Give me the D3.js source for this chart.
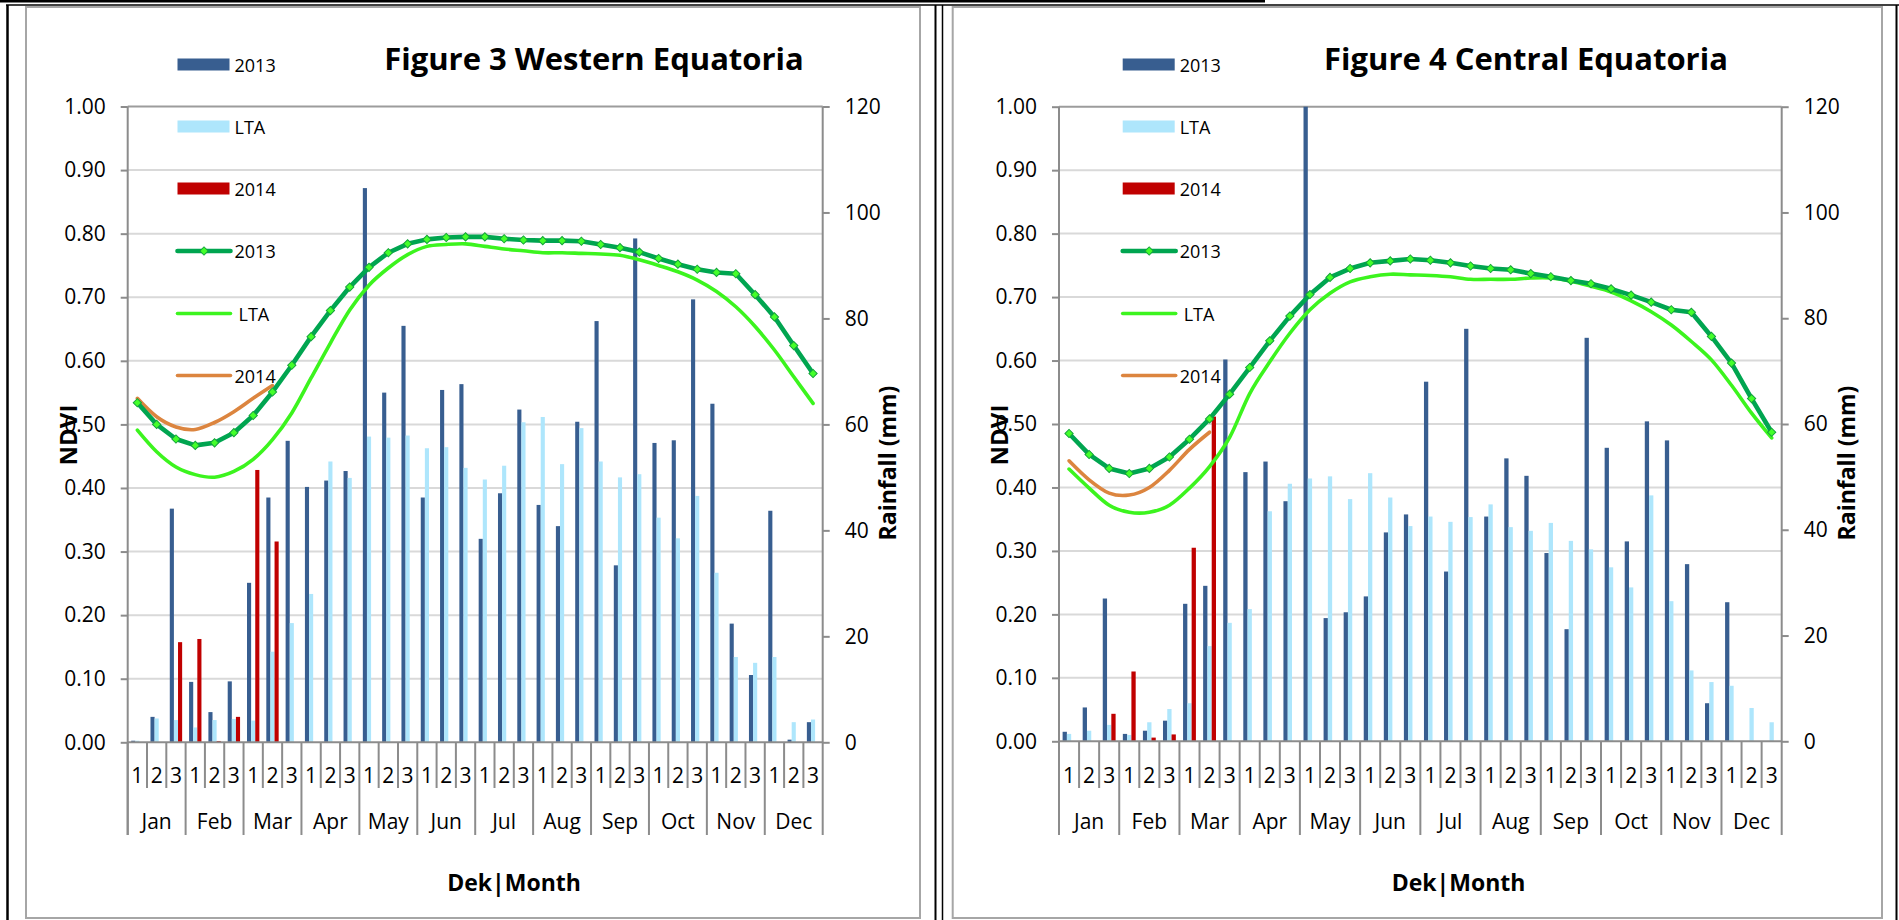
<!DOCTYPE html>
<html>
<head>
<meta charset="utf-8">
<script src="https://cdn.jsdelivr.net/npm/d3@7"></script>
<style>
  html, body { margin: 0; padding: 0; background: #fff; }
  svg { display: block; }
  text { font-family: "Open Sans", "Liberation Sans", sans-serif; }
</style>
</head>
<body>
<svg id="page" width="1899" height="920"></svg>
<script>
// ---- categories and ticks ----
const months = ["Jan", "Feb", "Mar", "Apr", "May", "Jun", "Jul", "Aug", "Sep", "Oct", "Nov", "Dec"];
const deks = ["1", "2", "3"];
const categories = months.flatMap(m => deks.map(d => m + "-" + d));
const ndviTicks = [0, 0.1, 0.2, 0.3, 0.4, 0.5, 0.6, 0.7, 0.8, 0.9, 1.0];
const rainTicks = [0, 20, 40, 60, 80, 100, 120];
const barSeries = ["2013", "LTA", "2014"];
const lineSeries = ["2013", "LTA", "2014"];

// ---- Western Equatoria: dekadal rainfall (mm) ----
const westRain2013 = [0.3, 4.8, 44.1, 11.4, 5.7, 11.5, 30.1, 46.2, 56.9, 48.2, 49.4, 51.2,
  104.6, 66.0, 78.6, 46.2, 66.5, 67.6, 38.4, 47.0, 62.8, 44.8, 40.8, 60.5,
  79.5, 33.4, 95.1, 56.5, 57.0, 83.6, 63.9, 22.4, 12.7, 43.7, 0.5, 3.8];
const westRainLTA = [0.3, 4.5, 4.2, 2.8, 4.2, 4.4, 4.1, 17.1, 22.5, 28.0, 53.0, 49.9,
  57.7, 57.5, 57.9, 55.5, 55.7, 51.8, 49.6, 52.2, 60.4, 61.4, 52.5, 59.3,
  53.0, 50.0, 50.6, 42.4, 38.5, 46.5, 32.0, 16.1, 15.0, 16.1, 3.8, 4.3];
const westRain2014 = [0, 0, 18.9, 19.5, 0.25, 4.8, 51.4, 37.9, null, null, null, null,
  null, null, null, null, null, null, null, null, null, null, null, null,
  null, null, null, null, null, null, null, null, null, null, null, null];

// ---- Western Equatoria: NDVI ----
const westNdvi2013 = [0.534, 0.500, 0.477, 0.467, 0.471, 0.487, 0.514, 0.551, 0.593, 0.638, 0.679, 0.716,
  0.747, 0.770, 0.784, 0.791, 0.794, 0.795, 0.795, 0.792, 0.790, 0.789, 0.789, 0.788,
  0.783, 0.778, 0.771, 0.761, 0.752, 0.744, 0.739, 0.737, 0.704, 0.669, 0.624, 0.580];
const westNdviLTA = [0.491, 0.457, 0.433, 0.421, 0.417, 0.426, 0.445, 0.476, 0.518, 0.573, 0.628, 0.680,
  0.719, 0.746, 0.767, 0.780, 0.783, 0.784, 0.780, 0.776, 0.773, 0.770, 0.770, 0.769,
  0.768, 0.766, 0.759, 0.750, 0.740, 0.727, 0.709, 0.685, 0.654, 0.617, 0.575, 0.533];
const westNdvi2014 = [0.541, 0.512, 0.496, 0.492, 0.503, 0.520, 0.541, 0.561, null, null, null, null,
  null, null, null, null, null, null, null, null, null, null, null, null,
  null, null, null, null, null, null, null, null, null, null, null, null];

// ---- Central Equatoria: dekadal rainfall (mm) ----
const centRain2013 = [1.8, 6.4, 27.0, 1.4, 2.0, 3.9, 26.0, 29.4, 72.2, 50.9, 52.9, 45.4,
  120, 23.3, 24.4, 27.4, 39.5, 42.9, 68.0, 32.1, 78.0, 42.5, 53.5, 50.2,
  35.6, 21.2, 76.3, 55.5, 37.8, 60.5, 56.9, 33.5, 7.2, 26.3, 0, 0];
const centRainLTA = [1.4, 2.0, 3.1, 1.2, 3.6, 6.1, 7.2, 18.0, 22.4, 25.0, 43.5, 48.7,
  49.7, 50.1, 45.8, 50.7, 46.1, 40.7, 42.5, 41.5, 42.4, 44.8, 40.5, 39.8,
  41.3, 37.9, 36.3, 32.9, 29.1, 46.5, 26.5, 13.4, 11.2, 10.5, 6.3, 3.6];
const centRain2014 = [0, 0, 5.2, 13.2, 0.7, 1.3, 36.6, 61.4, null, null, null, null,
  null, null, null, null, null, null, null, null, null, null, null, null,
  null, null, null, null, null, null, null, null, null, null, null, null];

// ---- Central Equatoria: NDVI ----
const centNdvi2013 = [0.485, 0.452, 0.430, 0.422, 0.430, 0.448, 0.476, 0.508, 0.547, 0.589, 0.631, 0.670,
  0.704, 0.731, 0.745, 0.754, 0.757, 0.760, 0.758, 0.754, 0.749, 0.745, 0.743, 0.737,
  0.732, 0.726, 0.721, 0.713, 0.703, 0.692, 0.680, 0.676, 0.638, 0.596, 0.540, 0.487];
const centNdviLTA = [0.429, 0.399, 0.372, 0.361, 0.361, 0.372, 0.399, 0.433, 0.479, 0.548, 0.598, 0.643,
  0.680, 0.706, 0.724, 0.732, 0.736, 0.735, 0.734, 0.732, 0.728, 0.728, 0.728, 0.730,
  0.730, 0.725, 0.717, 0.708, 0.694, 0.677, 0.656, 0.630, 0.601, 0.561, 0.517, 0.478];
const centNdvi2014 = [0.442, 0.412, 0.391, 0.388, 0.400, 0.427, 0.460, 0.487, null, null, null, null,
  null, null, null, null, null, null, null, null, null, null, null, null,
  null, null, null, null, null, null, null, null, null, null, null, null];

// ---- palette ----
const barColors = { "2013": "#385e90", "LTA": "#aee6fc", "2014": "#c00000" };
const lineColors = { "2013": "#00a550", "LTA": "#3cf41e", "2014": "#dc853f" };
const axisColor = "#8c8c8c";
const gridColor = "#d9d9d9";

const svg = d3.select("#page");

function drawChart(cfg) {
  const g = svg.append("g");
  const x0 = d3.scaleBand().domain(categories).range([cfg.left, cfg.right])
    .paddingInner(0.36).paddingOuter(0.18);
  const x1 = d3.scaleBand().domain(barSeries).range([0, x0.bandwidth()]);
  const gap = x0.step() - x0.bandwidth();
  const yN = d3.scaleLinear().domain([0, 1]).range([cfg.bottom, cfg.top]);
  const yR = d3.scaleLinear().domain([0, 120]).range([cfg.bottom, cfg.top]);
  const cx = i => x0(categories[i]) + x0.bandwidth() / 2;
  const catLow = 788, catBottom = 835;

  // chart area border
  g.append("rect")
    .attr("x", cfg.frameL).attr("y", 7)
    .attr("width", cfg.frameR - cfg.frameL).attr("height", 911)
    .attr("fill", "#fff").attr("stroke", "#a6a6a6").attr("stroke-width", 2);

  // horizontal gridlines (NDVI axis)
  g.append("g").selectAll("line").data(ndviTicks.slice(1)).join("line")
    .attr("x1", cfg.left).attr("x2", cfg.right)
    .attr("y1", d => yN(d)).attr("y2", d => yN(d))
    .attr("stroke", d => d === 1 ? "#9c9c9c" : gridColor)
    .attr("stroke-width", 2);

  // rainfall bars
  const rain = { "2013": cfg.rain2013, "LTA": cfg.rainLTA, "2014": cfg.rain2014 };
  const barData = [];
  categories.forEach((c, i) => barSeries.forEach(s => {
    const v = rain[s][i];
    if (v != null && v > 0) barData.push({ c, s, v });
  }));
  g.append("g").selectAll("rect").data(barData).join("rect")
    .attr("x", d => x0(d.c) + x1(d.s))
    .attr("width", x1.bandwidth())
    .attr("y", d => yR(d.v))
    .attr("height", d => yR(0) - yR(d.v))
    .attr("fill", d => barColors[d.s]);

  // category axis: base line, dekad and month separators
  g.append("line")
    .attr("x1", cfg.left).attr("x2", cfg.right)
    .attr("y1", yN(0)).attr("y2", yN(0))
    .attr("stroke", axisColor).attr("stroke-width", 2);
  g.append("g").selectAll("line").data(categories).join("line")
    .attr("x1", c => x0(c) - gap / 2).attr("x2", c => x0(c) - gap / 2)
    .attr("y1", yN(0))
    .attr("y2", (c, i) => i % 3 === 0 ? catBottom : catLow)
    .attr("stroke", axisColor).attr("stroke-width", 2);
  g.append("line")
    .attr("x1", cfg.right).attr("x2", cfg.right)
    .attr("y1", cfg.top).attr("y2", catBottom)
    .attr("stroke", axisColor).attr("stroke-width", 2);
  g.append("line")
    .attr("x1", cfg.left).attr("x2", cfg.left)
    .attr("y1", cfg.top).attr("y2", catBottom)
    .attr("stroke", axisColor).attr("stroke-width", 2);

  g.append("g").selectAll("text").data(categories).join("text")
    .attr("x", (c, i) => cx(i)).attr("y", 775)
    .attr("text-anchor", "middle").attr("dominant-baseline", "central")
    .attr("font-size", 21).attr("fill", "#000")
    .text(c => c.split("-")[1]);
  g.append("g").selectAll("text").data(months).join("text")
    .attr("x", (m, i) => (cx(i * 3) + cx(i * 3 + 2)) / 2).attr("y", 821)
    .attr("text-anchor", "middle").attr("dominant-baseline", "central")
    .attr("font-size", 21).attr("fill", "#000")
    .text(m => m);

  // NDVI axis (left)
  const axL = g.append("g").attr("transform", `translate(${cfg.left},0)`)
    .call(d3.axisLeft(yN).tickValues(ndviTicks).tickFormat(d3.format(".2f"))
      .tickSize(7).tickSizeOuter(0).tickPadding(15));
  axL.select(".domain").remove();
  axL.selectAll(".tick line").attr("stroke", axisColor).attr("stroke-width", 2);
  axL.selectAll(".tick text").attr("font-size", 21).attr("fill", "#000")
    .attr("font-family", "Open Sans");

  // rainfall axis (right)
  const axR = g.append("g").attr("transform", `translate(${cfg.right},0)`)
    .call(d3.axisRight(yR).tickValues(rainTicks).tickSize(7).tickSizeOuter(0).tickPadding(15));
  axR.select(".domain").remove();
  axR.selectAll(".tick line").attr("stroke", axisColor).attr("stroke-width", 2);
  axR.selectAll(".tick text").attr("font-size", 21).attr("fill", "#000")
    .attr("font-family", "Open Sans");

  // NDVI lines
  const smooth = d3.line()
    .defined(d => d != null)
    .x((d, i) => cx(i)).y(d => yN(d))
    .curve(d3.curveCardinal.tension(0));
  const straight = d3.line()
    .defined(d => d != null)
    .x((d, i) => cx(i)).y(d => yN(d));

  g.append("path").datum(cfg.ndviLTA).attr("d", smooth)
    .attr("fill", "none").attr("stroke", lineColors["LTA"]).attr("stroke-width", 3.6)
    .attr("stroke-linecap", "round").attr("stroke-linejoin", "round");
  g.append("path").datum(cfg.ndvi2014).attr("d", smooth)
    .attr("fill", "none").attr("stroke", lineColors["2014"]).attr("stroke-width", 3.6)
    .attr("stroke-linecap", "round").attr("stroke-linejoin", "round");
  g.append("path").datum(cfg.ndvi2013).attr("d", straight)
    .attr("fill", "none").attr("stroke", lineColors["2013"]).attr("stroke-width", 4.6)
    .attr("stroke-linecap", "round").attr("stroke-linejoin", "round");

  const diamond = d3.symbol(d3.symbolSquare, 34);
  g.append("g").selectAll("path").data(cfg.ndvi2013).join("path")
    .attr("transform", (d, i) => `translate(${cx(i)},${yN(d)}) rotate(45)`)
    .attr("d", diamond)
    .attr("fill", "#44ff2a").attr("stroke", "#13a33a").attr("stroke-width", 1);

  // legend
  const lg = g.append("g");
  const legendItems = [
    { kind: "bar", s: "2013" }, { kind: "bar", s: "LTA" }, { kind: "bar", s: "2014" },
    { kind: "line", s: "2013" }, { kind: "line", s: "LTA" }, { kind: "line", s: "2014" }
  ];
  const legendY = [64.5, 126.5, 188.5, 251, 313.5, 375.5];
  legendItems.forEach((it, k) => {
    const y = legendY[k];
    const lx = cfg.legendX;
    if (it.kind === "bar") {
      lg.append("rect").attr("x", lx).attr("y", y - 6).attr("width", 52).attr("height", 12)
        .attr("fill", barColors[it.s]);
    } else {
      lg.append("line").attr("x1", lx).attr("x2", lx + 53).attr("y1", y).attr("y2", y)
        .attr("stroke", lineColors[it.s])
        .attr("stroke-width", it.s === "2013" ? 4.6 : 3.6)
        .attr("stroke-linecap", "round");
      if (it.s === "2013") {
        lg.append("path").attr("transform", `translate(${lx + 26.5},${y}) rotate(45)`)
          .attr("d", diamond).attr("fill", "#44ff2a").attr("stroke", "#13a33a").attr("stroke-width", 1);
      }
    }
    lg.append("text")
      .attr("x", lx + (it.kind === "line" && it.s === "LTA" ? 61 : 57))
      .attr("y", y).attr("dominant-baseline", "central")
      .attr("font-size", 18).attr("fill", "#000")
      .text(it.s);
  });

  // axis titles
  g.append("text")
    .attr("transform", `translate(${cfg.left - 51},435) rotate(-90)`)
    .attr("text-anchor", "middle").attr("font-size", 24).attr("font-weight", "bold")
    .attr("fill", "#000").text("NDVI");
  g.append("text")
    .attr("transform", `translate(${cfg.right + 73},463) rotate(-90)`)
    .attr("text-anchor", "middle").attr("font-size", 23).attr("font-weight", "bold")
    .attr("fill", "#000").text("Rainfall (mm)");
  g.append("text")
    .attr("x", cfg.dekX).attr("y", 891)
    .attr("text-anchor", "middle").attr("font-size", 23).attr("font-weight", "bold")
    .attr("fill", "#000").text("Dek|Month");

  // chart title
  g.append("text")
    .attr("x", cfg.titleX).attr("y", 70)
    .attr("text-anchor", "middle").attr("font-size", 31).attr("font-weight", "bold")
    .attr("fill", "#000").text(cfg.title);
}

drawChart({
  title: "Figure 3 Western Equatoria",
  frameL: 26, frameR: 920,
  left: 127.7, right: 822.7, top: 106.5, bottom: 742.3,
  legendX: 177.5, titleX: 594, dekX: 514,
  rain2013: westRain2013, rainLTA: westRainLTA, rain2014: westRain2014,
  ndvi2013: westNdvi2013, ndviLTA: westNdviLTA, ndvi2014: westNdvi2014
});

drawChart({
  title: "Figure 4 Central Equatoria",
  frameL: 952.7, frameR: 1882,
  left: 1059, right: 1781.7, top: 106.7, bottom: 741.3,
  legendX: 1122.7, titleX: 1526, dekX: 1458.5,
  rain2013: centRain2013, rainLTA: centRainLTA, rain2014: centRain2014,
  ndvi2013: centNdvi2013, ndviLTA: centNdviLTA, ndvi2014: centNdvi2014
});

// table borders around the two panels
const border = svg.append("g").attr("stroke", "#000").attr("fill", "none");
border.append("line").attr("x1", 0).attr("x2", 1265).attr("y1", 1).attr("y2", 1).attr("stroke-width", 3);
border.append("line").attr("x1", 6).attr("x2", 1899).attr("y1", 5).attr("y2", 5).attr("stroke-width", 1.5);
border.append("line").attr("x1", 7.5).attr("x2", 7.5).attr("y1", 5).attr("y2", 920).attr("stroke-width", 2.5);
border.append("line").attr("x1", 935.5).attr("x2", 935.5).attr("y1", 5).attr("y2", 920).attr("stroke-width", 2);
border.append("line").attr("x1", 942.5).attr("x2", 942.5).attr("y1", 5).attr("y2", 920).attr("stroke-width", 1.5);
border.append("line").attr("x1", 1896.5).attr("x2", 1896.5).attr("y1", 5).attr("y2", 920).attr("stroke-width", 2);
</script>
</body>
</html>
